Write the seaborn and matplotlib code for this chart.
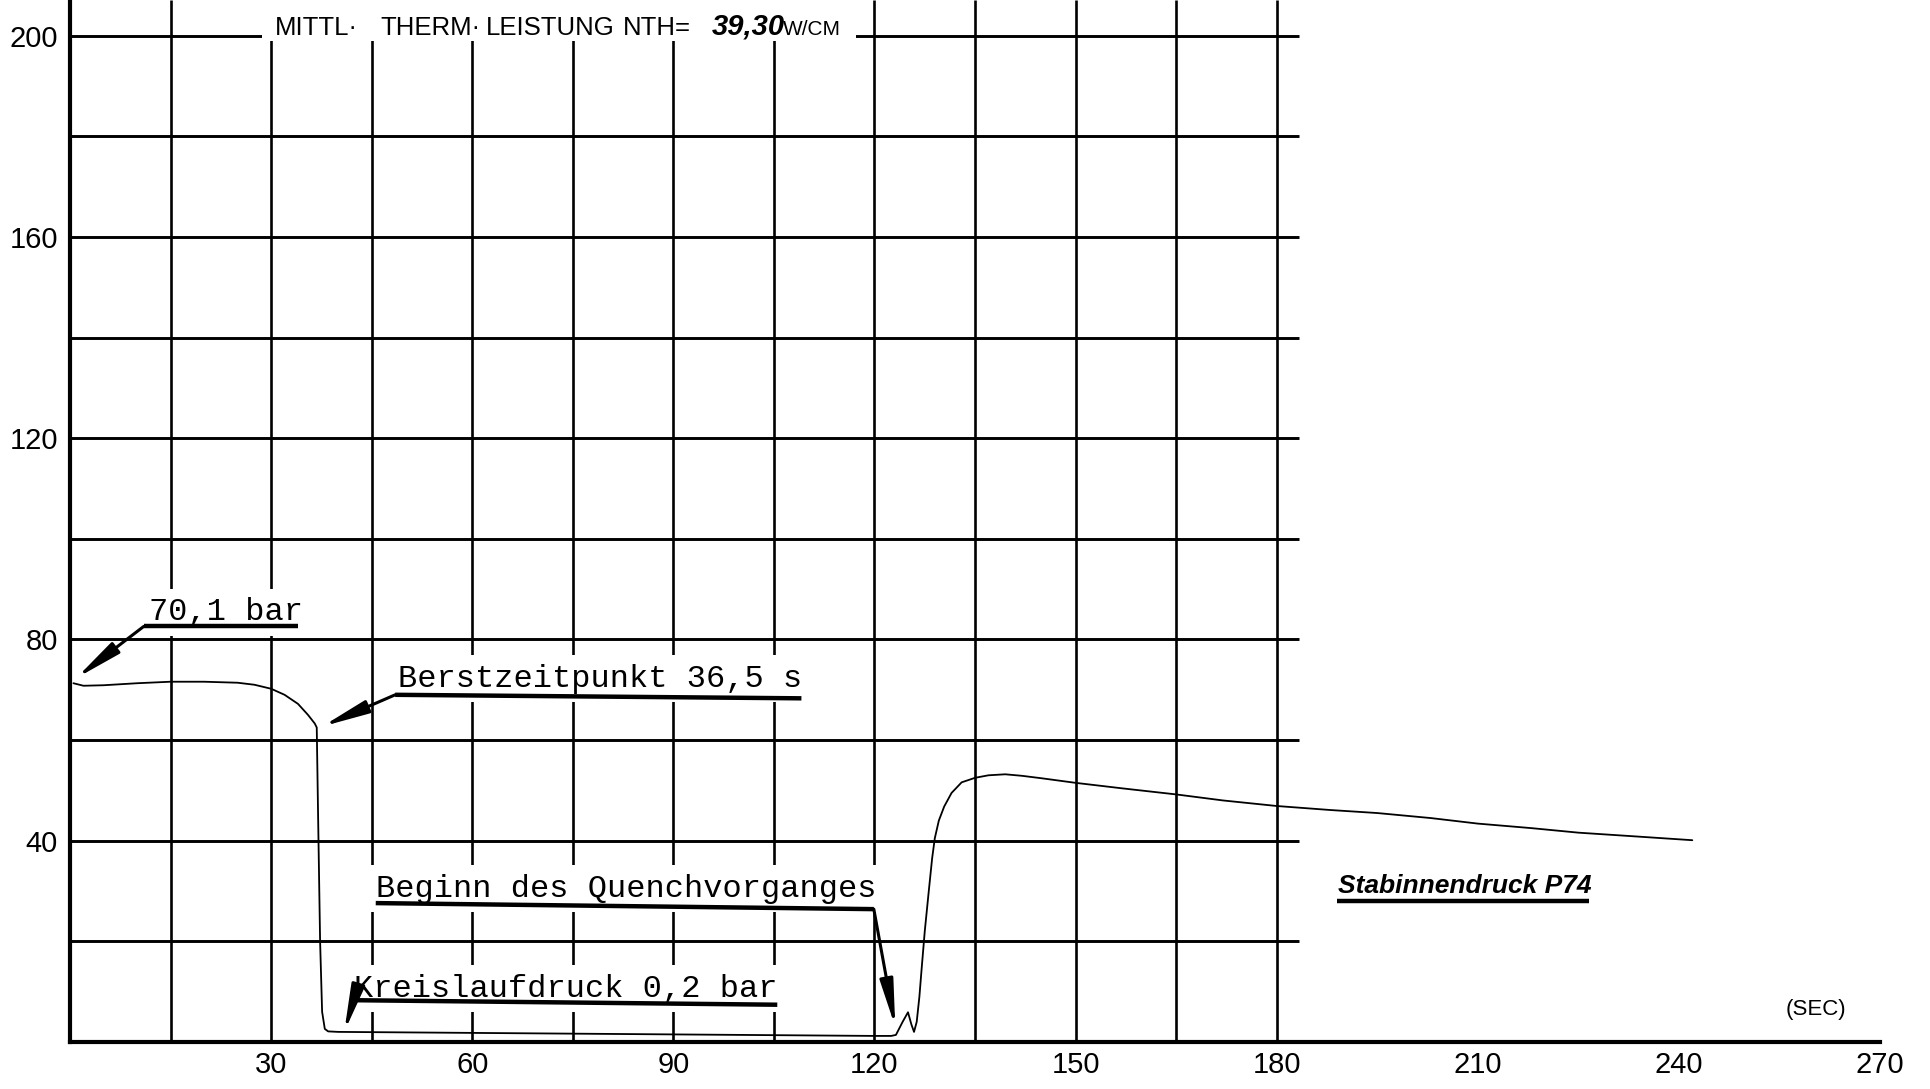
import matplotlib
matplotlib.use("Agg")
import matplotlib.pyplot as plt
import seaborn as sns
import pandas as pd
from matplotlib import font_manager

# ---------------- data ----------------
time_s = [0.5, 2.0, 5.0, 10.0, 15.0, 20.0, 25.0, 27.5, 30.0, 32.0, 34.0, 35.5,
          36.5, 36.8, 37.0, 37.3, 37.6, 38.0, 38.5, 40.0, 60.0, 80.0, 100.0,
          120.0, 122.5, 123.2, 124.2, 125.0, 125.5, 125.9, 126.3, 126.7, 127.0,
          127.5, 128.1, 128.6, 129.0, 129.6, 130.4, 131.5, 133.0, 135.0, 137.0,
          139.5, 142.0, 145.0, 150.0, 157.0, 165.0, 172.0, 180.0, 188.0, 195.0,
          203.0, 210.0, 218.0, 225.0, 233.0, 242.0]
pressure_bar = [71.3, 70.8, 70.9, 71.3, 71.6, 71.6, 71.4, 71.0, 70.2, 69.0, 67.2, 65.0,
                63.3, 62.5, 45.0, 20.0, 6.0, 2.6, 2.1, 2.0, 1.8, 1.6, 1.4,
                1.2, 1.2, 1.4, 4.0, 5.9, 3.5, 2.0, 4.0, 9.0, 14.0,
                22.0, 30.0, 36.5, 40.5, 44.0, 46.8, 49.5, 51.6, 52.5, 53.0,
                53.2, 52.9, 52.4, 51.5, 50.4, 49.2, 48.0, 46.9, 46.1, 45.5,
                44.5, 43.4, 42.5, 41.6, 40.9, 40.1]

x_tick_values = [0, 15, 30, 45, 60, 75, 90, 105, 120, 135, 150, 165, 180,
                 195, 210, 225, 240, 255, 270]
x_tick_labels = ["", "", "30", "", "60", "", "90", "", "120", "", "150", "",
                 "180", "", "210", "", "240", "", "270"]
y_tick_values = [0, 20, 40, 60, 80, 100, 120, 140, 160, 180, 200]
y_tick_labels = ["", "", "40", "", "80", "", "120", "", "160", "", "200"]
grid_x_values = [15, 30, 45, 60, 75, 90, 105, 120, 135, 150, 165, 180]
grid_y_values = [20, 40, 60, 80, 100, 120, 140, 160, 180, 200]
grid_y_extent = 183.3

title_words = ["MITTL·", "THERM·", "LEISTUNG", "NTH="]
title_value = "39,30"
title_unit = "W/CM"
curve_name = "Stabinnendruck P74"
axis_unit = "(SEC)"

notes = ["70,1 bar", "Berstzeitpunkt 36,5 s",
         "Beginn des Quenchvorganges", "Kreislaufdruck 0,2 bar"]

# ---------------- fonts ----------------
names = {f.name for f in font_manager.fontManager.ttflist}
if "Liberation Sans Narrow" in names:
    SANS, NSCALE = "Liberation Sans Narrow", 1.15
else:
    SANS, NSCALE = "Liberation Sans", 1.0
MONO = "Liberation Mono" if "Liberation Mono" in names else "DejaVu Sans Mono"

sns.set_theme(style="white")
plt.rcParams["font.family"] = [SANS, "DejaVu Sans"]

fig = plt.figure(figsize=(19.30, 10.89), dpi=100)
ax = fig.add_axes([0.0363, 0.0432, 0.9378, 0.9568])
ax.set_facecolor("white")

YTOP = 207.1
ax.set_xlim(0, 270)
ax.set_ylim(0, YTOP)

# grid
ax.vlines(grid_x_values, 0, YTOP, color="black", lw=1.9, zorder=1)
ax.hlines(grid_y_values, 0, grid_y_extent, color="black", lw=2.1, zorder=1)

# curve
df = pd.DataFrame({"t": time_s, "p": pressure_bar})
sns.lineplot(data=df, x="t", y="p", ax=ax, color="black", lw=1.3,
             sort=False, estimator=None, zorder=6)

# spines / ticks
for s in ["top", "right"]:
    ax.spines[s].set_visible(False)
for s in ["left", "bottom"]:
    ax.spines[s].set_color("black")
    ax.spines[s].set_linewidth(3)
    ax.spines[s].set_zorder(7)
ax.set_xticks(x_tick_values)
ax.set_xticklabels(x_tick_labels)
ax.set_yticks(y_tick_values)
ax.set_yticklabels(y_tick_labels)
ax.tick_params(axis="both", direction="inout", length=11.5, width=2.0,
               color="black", labelcolor="black", labelsize=21 * NSCALE)
ax.tick_params(axis="x", pad=1)
ax.tick_params(axis="y", pad=3)
ax.set_xlabel("")
ax.set_ylabel("")

# title on the 200 line (white mask under it)
ax.axvspan(28.6, 117.3, ymin=198.9 / YTOP, ymax=1.0, color="white", lw=0, zorder=3)
title_x = [30.5, 46.3, 62.1, 82.5]
for w, xx in zip(title_words, title_x):
    ax.text(xx, 200.2, w, fontsize=18.5 * NSCALE, ha="left", va="baseline",
            color="black", zorder=4)
ax.text(95.8, 200.2, title_value, fontsize=21 * NSCALE, fontweight="bold",
        fontstyle="italic", ha="left", va="baseline", color="black", zorder=4)
ax.text(106.4, 200.2, title_unit, fontsize=15 * NSCALE, ha="left", va="baseline",
        color="black", zorder=4)

# annotations
note_text_pos = [(11.8, 83.8), (48.9, 70.6), (45.6, 28.9), (42.3, 9.0)]
note_lines = [((11.0, 82.6), (34.0, 82.6)),
              ((48.5, 69.0), (109.1, 68.3)),
              ((45.6, 27.6), (119.9, 26.4)),
              ((42.3, 8.3), (105.5, 7.4))]
note_arrow_from = [(11.0, 82.6), (48.5, 69.0), (119.9, 26.4), (42.3, 8.3)]
note_arrow_tip = [(0.9, 72.3), (37.6, 62.7), (123.1, 3.0), (40.9, 2.0)]

for txt, (tx, ty), (p0, p1), a0, a1 in zip(notes, note_text_pos, note_lines,
                                           note_arrow_from, note_arrow_tip):
    ax.text(tx, ty, txt, family=MONO, fontsize=23, ha="left", va="baseline",
            color="black", zorder=4,
            bbox=dict(facecolor="white", edgecolor="none", pad=6))
    ax.plot([p0[0], p1[0]], [p0[1], p1[1]], color="black", lw=3.2,
            solid_capstyle="butt", zorder=5)
    ax.annotate("", xy=a1, xytext=a0, zorder=5,
                arrowprops=dict(arrowstyle="-|>,head_length=1.4,head_width=0.2",
                                lw=2.2, color="black", mutation_scale=20,
                                shrinkA=0, shrinkB=0))

# curve name
ax.text(189.2, 29.6, curve_name, fontsize=19 * NSCALE, fontweight="bold",
        fontstyle="italic", ha="left", va="baseline", color="black", zorder=4)
ax.plot([189.0, 226.6], [28.0, 28.0], color="black", lw=3.2,
        solid_capstyle="butt", zorder=5)

# unit label
ax.text(260.5, 6.4, axis_unit, fontsize=16 * NSCALE, ha="center", va="center",
        color="black", zorder=4)

fig.savefig("out.png", dpi=100, facecolor="white")
